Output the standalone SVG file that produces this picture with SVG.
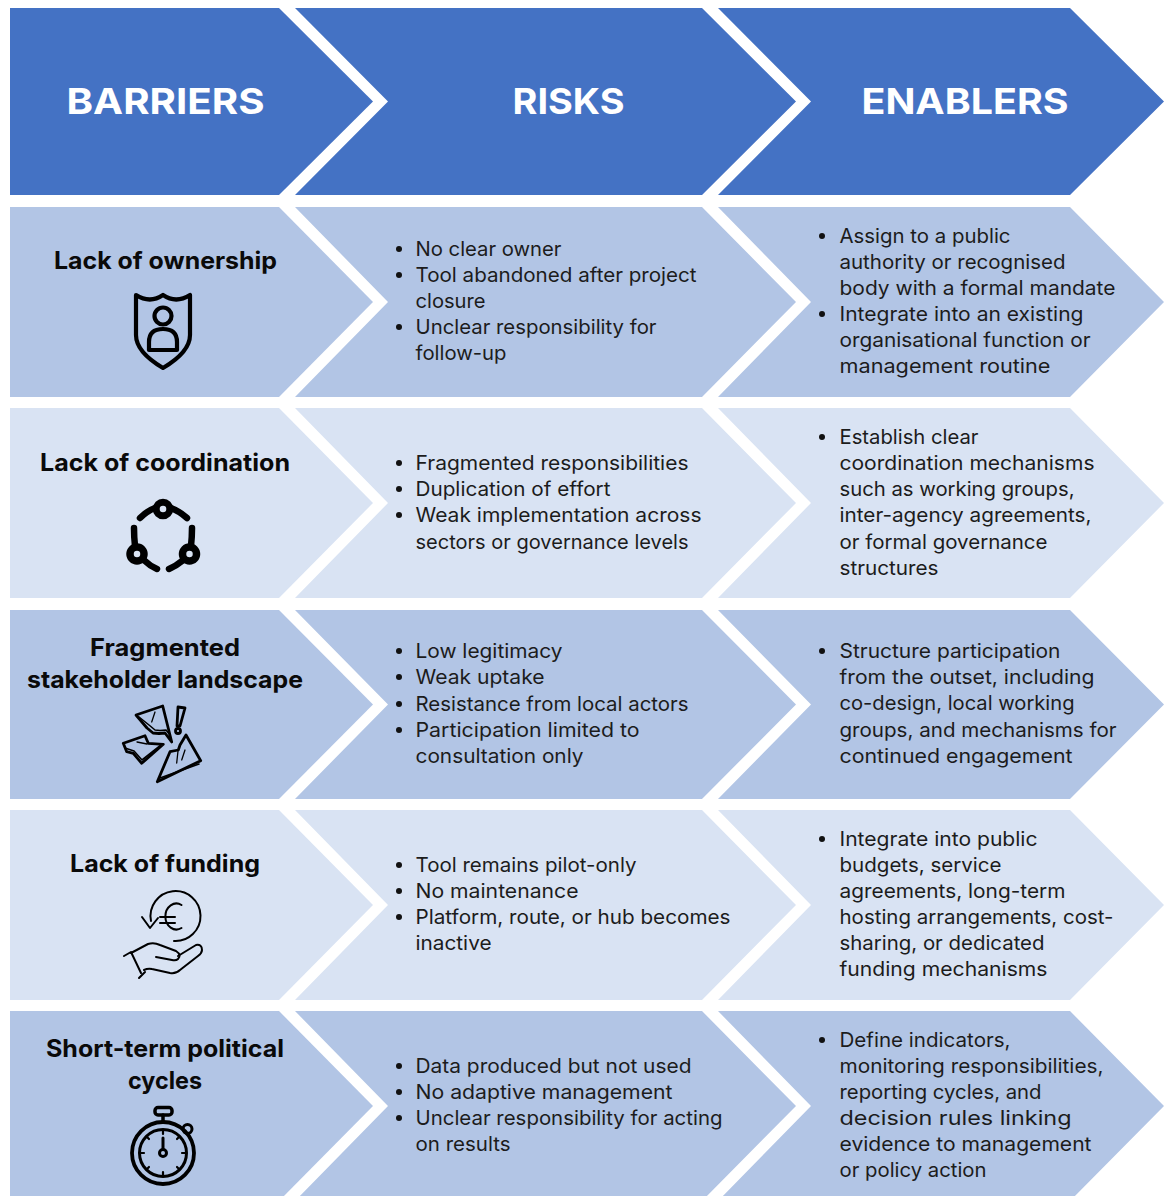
<svg xmlns="http://www.w3.org/2000/svg" width="1170" height="1196" viewBox="0 0 1170 1196">
<style>
text{font-family:"Inter","Noto Sans","Liberation Sans",sans-serif;}
.h{fill:#4472C4}.d{fill:#B2C5E5}.l{fill:#D9E3F3}
.ht{font-size:36px;font-weight:700;fill:#fff}
.t{font-size:24px;font-weight:700;fill:#0a0a0a}
.b{font-size:20px;font-weight:400;fill:#1c1c1c}
.dot{fill:#111}
.i{fill:none;stroke:#000;stroke-linecap:round;stroke-linejoin:round}
</style>
<rect width="1170" height="1196" fill="#fff"/>

<g id="header-barriers"><path class="h" d="M10 8H279L373 101.500 279 195H10Z"/><text class="ht" x="66.500" y="114" textLength="198" lengthAdjust="spacingAndGlyphs">BARRIERS</text></g>
<g id="header-risks"><path class="h" d="M295 8H702L796 101.500 702 195H295L388 101.500Z"/><text class="ht" x="512.500" y="114" textLength="112" lengthAdjust="spacingAndGlyphs">RISKS</text></g>
<g id="header-enablers"><path class="h" d="M718 8H1070L1164 101.500 1070 195H718L811 101.500Z"/><text class="ht" x="861.500" y="114" textLength="207" lengthAdjust="spacingAndGlyphs">ENABLERS</text></g>

<g id="barrier-ownership"><path class="d" d="M10 207H279L373 302 279 397H10Z"/>
<text class="t" x="54" y="269" textLength="223" lengthAdjust="spacingAndGlyphs">Lack of ownership</text>
<g class="i" stroke-width="4.200"><path d="M136 295Q150 304 163 295Q176 304 190 295V335Q190 352 163 368Q136 352 136 335Z"/><circle cx="163" cy="316" r="8.500"/><path d="M149 350V342Q149 329 163 329Q177 329 177 342V350Z"/></g></g>
<g id="risk-ownership"><path class="d" d="M295 207H702L796 302 702 397H295L388 302Z"/>
<circle class="dot" cx="399" cy="249" r="3"/><circle class="dot" cx="399" cy="275" r="3"/><circle class="dot" cx="399" cy="327" r="3"/>
<text class="b" x="415.500" y="256" textLength="146" lengthAdjust="spacingAndGlyphs">No clear owner</text>
<text class="b" x="415.500" y="282" textLength="281" lengthAdjust="spacingAndGlyphs">Tool abandoned after project</text>
<text class="b" x="415.500" y="308" textLength="70" lengthAdjust="spacingAndGlyphs">closure</text>
<text class="b" x="415.500" y="334" textLength="241" lengthAdjust="spacingAndGlyphs">Unclear responsibility for</text>
<text class="b" x="415.500" y="360" textLength="91" lengthAdjust="spacingAndGlyphs">follow-up</text></g>
<g id="enabler-ownership"><path class="d" d="M718 207H1070L1164 302 1070 397H718L811 302Z"/>
<circle class="dot" cx="822" cy="236" r="3"/><circle class="dot" cx="822" cy="314" r="3"/>
<text class="b" x="839.500" y="243" textLength="171" lengthAdjust="spacingAndGlyphs">Assign to a public</text>
<text class="b" x="839.500" y="269" textLength="226" lengthAdjust="spacingAndGlyphs">authority or recognised</text>
<text class="b" x="839.500" y="295" textLength="276" lengthAdjust="spacingAndGlyphs">body with a formal mandate</text>
<text class="b" x="839.500" y="321" textLength="244" lengthAdjust="spacingAndGlyphs">Integrate into an existing</text>
<text class="b" x="839.500" y="347" textLength="251" lengthAdjust="spacingAndGlyphs">organisational function or</text>
<text class="b" x="839.500" y="373" textLength="211" lengthAdjust="spacingAndGlyphs">management routine</text></g>

<g id="barrier-coordination"><path class="l" d="M10 408H279L373 503 279 598H10Z"/>
<text class="t" x="40" y="471" textLength="250" lengthAdjust="spacingAndGlyphs">Lack of coordination</text>
<g class="i"><circle cx="163" cy="509" r="6.800" stroke-width="7"/><circle cx="137" cy="554" r="7" stroke-width="7.500"/><circle cx="189.500" cy="554" r="7" stroke-width="7.500"/><path stroke-width="6.500" d="M140 518Q147 511 155 508M171 508Q179 511 187 518M134 528Q134 537 135 546M145 561Q150 566 157 569M169 569Q176 566 182 561M192 528Q192 537 191 546"/></g></g>
<g id="risk-coordination"><path class="l" d="M295 408H702L796 503 702 598H295L388 503Z"/>
<circle class="dot" cx="399" cy="463" r="3"/><circle class="dot" cx="399" cy="489" r="3"/><circle class="dot" cx="399" cy="515" r="3"/>
<text class="b" x="415.500" y="470" textLength="273" lengthAdjust="spacingAndGlyphs">Fragmented responsibilities</text>
<text class="b" x="415.500" y="496" textLength="195" lengthAdjust="spacingAndGlyphs">Duplication of effort</text>
<text class="b" x="415.500" y="522" textLength="286" lengthAdjust="spacingAndGlyphs">Weak implementation across</text>
<text class="b" x="415.500" y="549" textLength="273" lengthAdjust="spacingAndGlyphs">sectors or governance levels</text></g>
<g id="enabler-coordination"><path class="l" d="M718 408H1070L1164 503 1070 598H718L811 503Z"/>
<circle class="dot" cx="822" cy="437" r="3"/>
<text class="b" x="839.500" y="444" textLength="139" lengthAdjust="spacingAndGlyphs">Establish clear</text>
<text class="b" x="839.500" y="470" textLength="255" lengthAdjust="spacingAndGlyphs">coordination mechanisms</text>
<text class="b" x="839.500" y="496" textLength="235" lengthAdjust="spacingAndGlyphs">such as working groups,</text>
<text class="b" x="839.500" y="522" textLength="252" lengthAdjust="spacingAndGlyphs">inter-agency agreements,</text>
<text class="b" x="839.500" y="549" textLength="208" lengthAdjust="spacingAndGlyphs">or formal governance</text>
<text class="b" x="839.500" y="575" textLength="99" lengthAdjust="spacingAndGlyphs">structures</text></g>

<g id="barrier-stakeholders"><path class="d" d="M10 610H279L373 704.500 279 799H10Z"/>
<text class="t" x="90" y="656" textLength="150" lengthAdjust="spacingAndGlyphs">Fragmented</text>
<text class="t" x="27" y="688" textLength="276" lengthAdjust="spacingAndGlyphs">stakeholder landscape</text>
<g class="i" stroke-width="2.800"><path d="M136 715L162.700 706L171.700 742L165 733L159 733.500L153 733L147 728Z"/><path d="M139 717L149 725L155 730L160 730.500L166 730L170 735" stroke-width="1.600"/><path d="M155 712L151.700 722" stroke-width="1.300"/><path d="M123.300 743.300L145 735.700L148.300 743.300L163.300 744.300L141.700 763.300L133.300 753.300L126.700 751.700Z"/><path d="M125 748L134 751L142 760L161 745" stroke-width="1.600"/><path d="M137 742L147 744" stroke-width="1.300"/><path d="M186 735L200.700 760.700L157.300 781.700L170 751.700L178.300 750L180 745Z"/><path d="M160 778L199 764" stroke-width="1.600"/><path d="M178 751L176.700 763M185 750L181.700 760" stroke-width="1.300"/><path d="M178 707L185 708L180 726L177 726Z"/><circle cx="178" cy="731" r="2.500"/></g></g>
<g id="risk-stakeholders"><path class="d" d="M295 610H702L796 704.500 702 799H295L388 704.500Z"/>
<circle class="dot" cx="399" cy="651" r="3"/><circle class="dot" cx="399" cy="677" r="3"/><circle class="dot" cx="399" cy="704" r="3"/><circle class="dot" cx="399" cy="730" r="3"/>
<text class="b" x="415.500" y="658" textLength="147" lengthAdjust="spacingAndGlyphs">Low legitimacy</text>
<text class="b" x="415.500" y="684" textLength="129" lengthAdjust="spacingAndGlyphs">Weak uptake</text>
<text class="b" x="415.500" y="711" textLength="273" lengthAdjust="spacingAndGlyphs">Resistance from local actors</text>
<text class="b" x="415.500" y="737" textLength="224" lengthAdjust="spacingAndGlyphs">Participation limited to</text>
<text class="b" x="415.500" y="763" textLength="168" lengthAdjust="spacingAndGlyphs">consultation only</text></g>
<g id="enabler-stakeholders"><path class="d" d="M718 610H1070L1164 704.500 1070 799H718L811 704.500Z"/>
<circle class="dot" cx="822" cy="651" r="3"/>
<text class="b" x="839.500" y="658" textLength="221" lengthAdjust="spacingAndGlyphs">Structure participation</text>
<text class="b" x="839.500" y="684" textLength="255" lengthAdjust="spacingAndGlyphs">from the outset, including</text>
<text class="b" x="839.500" y="710" textLength="235" lengthAdjust="spacingAndGlyphs">co-design, local working</text>
<text class="b" x="839.500" y="737" textLength="277" lengthAdjust="spacingAndGlyphs">groups, and mechanisms for</text>
<text class="b" x="839.500" y="763" textLength="233" lengthAdjust="spacingAndGlyphs">continued engagement</text></g>

<g id="barrier-funding"><path class="l" d="M10 810H279L373 905 279 1000H10Z"/>
<text class="t" x="70" y="872" textLength="190" lengthAdjust="spacingAndGlyphs">Lack of funding</text>
<g class="i" stroke-width="2"><path d="M151 921A25 25 0 1 1 174 941"/><path d="M142 917L150 928L158 918"/><path d="M181.500 905A11 13 0 1 0 181.500 928M160 917H175M160 923H175"/><path d="M124 956L131 952L141 973M139 978L145 972"/><path d="M131 953L148 944Q154 942 160 945L176 951Q182 955 178 959Q176 961 172 960L156 957"/><path d="M178 956L196 945Q202 944 202 950Q202 953 198 956L180 970Q176 974 170 973L152 969Q148 968 144 970"/></g></g>
<g id="risk-funding"><path class="l" d="M295 810H702L796 905 702 1000H295L388 905Z"/>
<circle class="dot" cx="399" cy="865" r="3"/><circle class="dot" cx="399" cy="891" r="3"/><circle class="dot" cx="399" cy="917" r="3"/>
<text class="b" x="415.500" y="872" textLength="221" lengthAdjust="spacingAndGlyphs">Tool remains pilot-only</text>
<text class="b" x="415.500" y="898" textLength="163" lengthAdjust="spacingAndGlyphs">No maintenance</text>
<text class="b" x="415.500" y="924" textLength="315" lengthAdjust="spacingAndGlyphs">Platform, route, or hub becomes</text>
<text class="b" x="415.500" y="950" textLength="76" lengthAdjust="spacingAndGlyphs">inactive</text></g>
<g id="enabler-funding"><path class="l" d="M718 810H1070L1164 905 1070 1000H718L811 905Z"/>
<circle class="dot" cx="822" cy="839" r="3"/>
<text class="b" x="839.500" y="846" textLength="198" lengthAdjust="spacingAndGlyphs">Integrate into public</text>
<text class="b" x="839.500" y="872" textLength="162" lengthAdjust="spacingAndGlyphs">budgets, service</text>
<text class="b" x="839.500" y="898" textLength="226" lengthAdjust="spacingAndGlyphs">agreements, long-term</text>
<text class="b" x="839.500" y="924" textLength="274" lengthAdjust="spacingAndGlyphs">hosting arrangements, cost-</text>
<text class="b" x="839.500" y="950" textLength="205" lengthAdjust="spacingAndGlyphs">sharing, or dedicated</text>
<text class="b" x="839.500" y="976" textLength="208" lengthAdjust="spacingAndGlyphs">funding mechanisms</text></g>

<g id="barrier-political"><path class="d" d="M10 1011H279L373 1106 279 1201H10Z"/>
<text class="t" x="46" y="1057" textLength="238" lengthAdjust="spacingAndGlyphs">Short-term political</text>
<text class="t" x="128" y="1089" textLength="74" lengthAdjust="spacingAndGlyphs">cycles</text>
<g class="i"><rect x="155" y="1107.500" width="17" height="7.500" rx="3" stroke-width="3.500"/><path stroke-width="3.500" d="M163 1115V1121"/><circle cx="163" cy="1153" r="31" stroke-width="3.800"/><circle cx="163" cy="1153" r="23.500" stroke-width="3"/><circle cx="187.500" cy="1129" r="4.500" stroke-width="3"/><path stroke-width="3" d="M163 1138V1148"/><circle cx="163" cy="1153" r="3.500" stroke-width="3"/><path stroke-width="2.200" d="M163 1130V1134M163 1172V1176M140 1153H144M182 1153H186M147 1137L149 1139M179 1137L177 1139M147 1169L149 1167M179 1169L177 1167"/></g></g>
<g id="risk-political"><path class="d" d="M295 1011H702L796 1106 702 1201H295L388 1106Z"/>
<circle class="dot" cx="399" cy="1066" r="3"/><circle class="dot" cx="399" cy="1092" r="3"/><circle class="dot" cx="399" cy="1118" r="3"/>
<text class="b" x="415.500" y="1073" textLength="276" lengthAdjust="spacingAndGlyphs">Data produced but not used</text>
<text class="b" x="415.500" y="1099" textLength="257" lengthAdjust="spacingAndGlyphs">No adaptive management</text>
<text class="b" x="415.500" y="1125" textLength="307" lengthAdjust="spacingAndGlyphs">Unclear responsibility for acting</text>
<text class="b" x="415.500" y="1151" textLength="95" lengthAdjust="spacingAndGlyphs">on results</text></g>
<g id="enabler-political"><path class="d" d="M718 1011H1070L1164 1106 1070 1201H718L811 1106Z"/>
<circle class="dot" cx="822" cy="1040" r="3"/>
<text class="b" x="839.500" y="1047" textLength="171" lengthAdjust="spacingAndGlyphs">Define indicators,</text>
<text class="b" x="839.500" y="1073" textLength="264" lengthAdjust="spacingAndGlyphs">monitoring responsibilities,</text>
<text class="b" x="839.500" y="1099" textLength="202" lengthAdjust="spacingAndGlyphs">reporting cycles, and</text>
<text class="b" x="839.500" y="1125" textLength="232" lengthAdjust="spacingAndGlyphs">decision rules linking</text>
<text class="b" x="839.500" y="1151" textLength="252" lengthAdjust="spacingAndGlyphs">evidence to management</text>
<text class="b" x="839.500" y="1177" textLength="147" lengthAdjust="spacingAndGlyphs">or policy action</text></g>
</svg>
